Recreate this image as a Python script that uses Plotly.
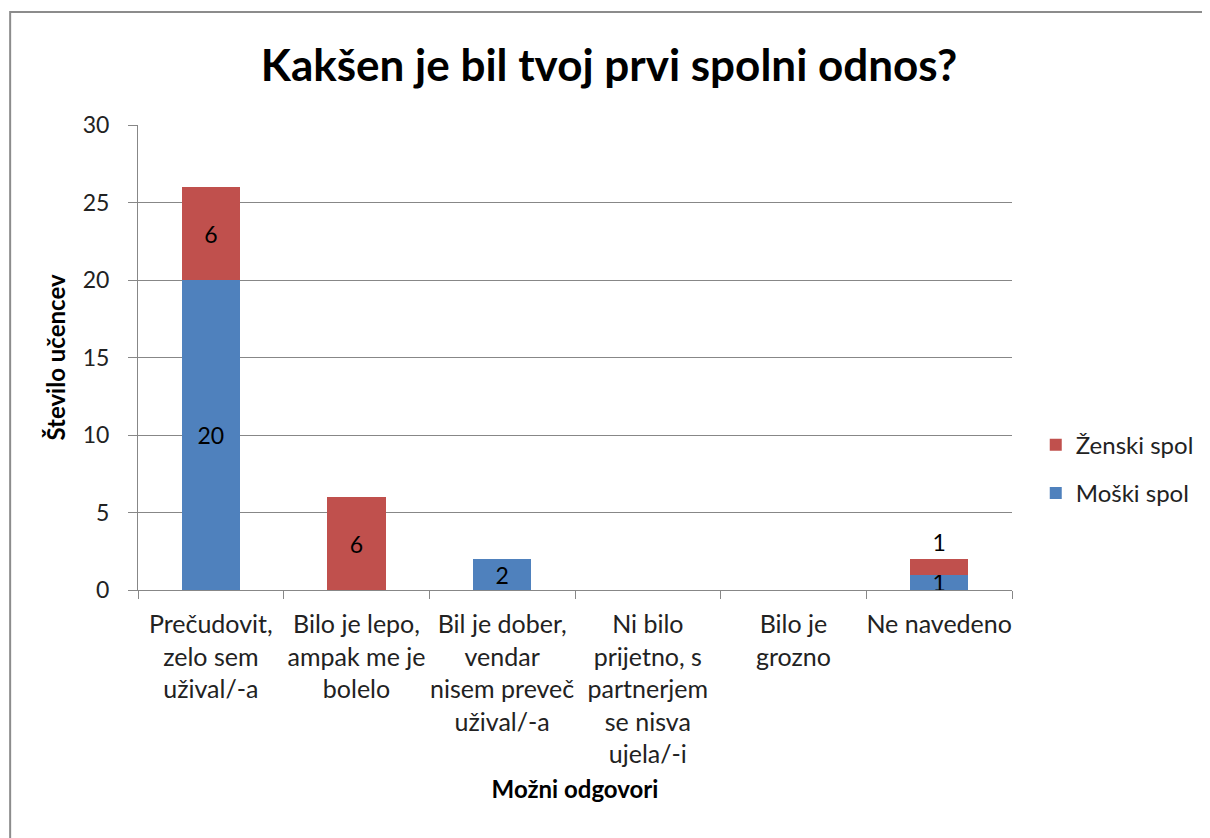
import plotly.graph_objects as go

categories = [
    "Prečudovit,<br>zelo sem<br>užival/-a",
    "Bilo je lepo,<br>ampak me je<br>bolelo",
    "Bil je dober,<br>vendar<br>nisem preveč<br>užival/-a",
    "Ni bilo<br>prijetno, s<br>partnerjem<br>se nisva<br>ujela/-i",
    "Bilo je<br>grozno",
    "Ne navedeno",
]
moski = [20, 0, 2, 0, 0, 1]
zenski = [6, 6, 0, 0, 0, 1]

FONT = "Lato"
# page body has an 8px margin, so the figure is a bit smaller than the window
W, H = 1202, 830
L, R, T, B = 130, 197, 117, 248
pw, ph = W - L - R, H - T - B


def labels(vals):
    return [str(v) if v else "" for v in vals]


fig = go.Figure()
fig.add_trace(go.Bar(
    x=categories, y=moski, name="Moški spol", legendgroup="m", legendrank=2,
    marker=dict(color="#4f81bd", line=dict(width=0)),
    text=labels(moski), textposition="inside", insidetextanchor="middle",
    constraintext="none", textangle=0,
    textfont=dict(family=FONT, size=23, color="#000000"),
))
fig.add_trace(go.Bar(
    x=categories, y=zenski, name="Ženski spol", legendgroup="z", legendrank=1,
    marker=dict(color="#c0504d", line=dict(width=0)),
    text=labels(zenski),
    textposition=["inside"] * (len(zenski) - 1) + ["outside"],
    insidetextanchor="middle", constraintext="none", textangle=0, cliponaxis=False,
    textfont=dict(family=FONT, size=23, color="#000000"),
))

# chart frame
fig.add_shape(
    type="rect", xref="paper", yref="paper", layer="below",
    x0=(2 - L) / pw, x1=(W + 20 - L) / pw,
    y0=-(H + 20 - T - ph) / ph, y1=(ph + T - 4) / ph,
    line=dict(color="#8c8c8c", width=2),
)

fig.update_layout(
    width=W, height=H,
    margin=dict(l=L, r=R, t=T, b=B),
    paper_bgcolor="white", plot_bgcolor="white",
    barmode="stack", bargap=0.6,
    font=dict(family=FONT, color="#222222"),
    title=dict(
        text="<b>Kakšen je bil tvoj prvi spolni odnos?</b>",
        x=0.5, xanchor="center", xref="container",
        y=1 - 58 / H, yanchor="middle",
        font=dict(family=FONT, size=44, color="#000000"),
    ),
    showlegend=True,
    legend=dict(
        x=1.026, xanchor="left", y=0.26, yanchor="middle",
        traceorder="grouped", tracegroupgap=14,
        font=dict(family=FONT, size=24, color="#222222"),
        bgcolor="rgba(0,0,0,0)",
    ),
)
fig.update_xaxes(
    showline=True, linecolor="#878787", linewidth=1,
    ticks="outside", tickson="boundaries", ticklen=8, tickcolor="#878787",
    ticklabelstandoff=12, tickangle=0,
    tickfont=dict(family=FONT, size=25, color="#222222"),
    title=dict(text="<b>Možni odgovori</b>", font=dict(family=FONT, size=24, color="#000000"),
               standoff=14),
)
fig.update_yaxes(
    range=[0, 30], dtick=5,
    showline=True, linecolor="#878787", linewidth=1,
    showgrid=True, gridcolor="#878787", gridwidth=1,
    ticks="outside", ticklen=9, tickcolor="#878787", ticklabelstandoff=14,
    tickfont=dict(family=FONT, size=23, color="#222222"),
    title=dict(text="<b>Število učencev</b>", font=dict(family=FONT, size=24, color="#000000"),
               standoff=10),
    zeroline=False,
)

fig.write_html("out.html")
